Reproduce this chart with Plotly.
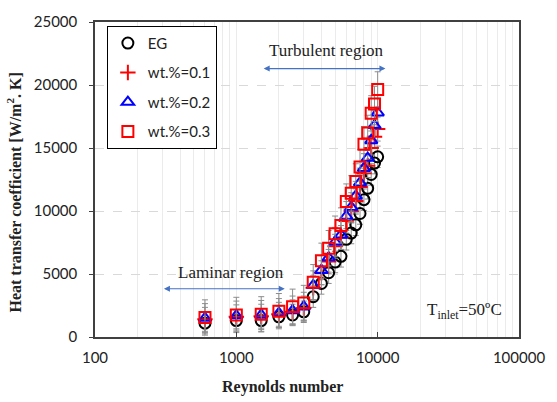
import plotly.graph_objects as go
import numpy as np

reynolds = [600, 1000, 1500, 2000, 2500, 3000, 3500, 4000, 4500, 5000,
            5500, 6000, 6500, 7000, 7500, 8000, 8500, 9000, 9500, 10000]
h_eg = [1100, 1300, 1300, 1600, 1750, 2000, 3200, 4250, 5100, 5950,
        6400, 7750, 8250, 8900, 9800, 10900, 11800, 12900, 13800, 14300]
h_w01 = [1400, 1600, 1650, 1800, 2000, 2300, 3900, 5100, 6000, 7200,
         7900, 9200, 10000, 10800, 11900, 13000, 13600, 15000, 15900, 16500]
h_w02 = [1500, 1700, 1750, 1900, 2100, 2400, 4100, 5300, 6300, 7550,
         8100, 9600, 10300, 11200, 12250, 13400, 14200, 15600, 16800, 17800]
h_w03 = [1550, 1750, 1800, 2050, 2400, 2700, 4350, 6050, 7050, 8200,
         8850, 10750, 11400, 12350, 13500, 15300, 16200, 17750, 18500, 19650]
err_eg = 850
err_w01 = 950
err_w02 = 1150
err_w03 = 1400

series_names = ["EG", "wt.%=0.1", "wt.%=0.2", "wt.%=0.3"]
x_ticks = [100, 1000, 10000, 100000]
y_ticks = [0, 5000, 10000, 15000, 20000, 25000]

fig = go.Figure()

styles = [
    (h_eg, err_eg, "circle-open", "black", 11),
    (h_w01, err_w01, "cross-thin-open", "#ff0000", 11),
    (h_w02, err_w02, "triangle-up-open", "#0000ff", 11),
    (h_w03, err_w03, "square-open", "#ff0000", 11),
]
for name, (vals, err, sym, col, sz) in zip(series_names, styles):
    fig.add_trace(go.Scatter(
        x=reynolds, y=vals, mode="markers", name=name, legendgroup=name,
        marker=dict(symbol=sym, size=sz, color=col, line=dict(width=2, color=col)),
        error_y=dict(type="constant", value=err, color="#8c8c8c", thickness=1, width=3),
    ))

serif = "Liberation Serif, Times New Roman, serif"
sans = "Lato, Open Sans, sans-serif"

fig.update_layout(
    width=557, height=402,
    margin=dict(l=95, r=33, t=17, b=65),
    paper_bgcolor="white", plot_bgcolor="white",
    font=dict(family=sans, size=14, color="#222"),
    showlegend=True,
    legend=dict(x=0.028, y=0.988, xanchor="left", yanchor="top",
                bgcolor="white", bordercolor="black", borderwidth=1,
                font=dict(family=sans, size=15, color="#222"),
                traceorder="grouped", tracegroupgap=7,
                itemwidth=30),
    xaxis=dict(type="log", range=[2, 5], tickvals=x_ticks,
               ticktext=[str(v) for v in x_ticks],
               showgrid=True, gridcolor="#ebebeb", gridwidth=1,
               minor=dict(dtick="D1", showgrid=True, gridcolor="#ebebeb", ticks=""),
               showline=True, linecolor="#404040", linewidth=1.5, mirror=True,
               ticks="inside", ticklen=5, tickcolor="#404040",
               ticklabelstandoff=6,
               tickfont=dict(family=sans, size=15, color="#222"),
               zeroline=False),
    yaxis=dict(range=[0, 25000], tickvals=y_ticks,
               ticktext=[str(v) for v in y_ticks],
               showgrid=True, gridcolor="#d9d9d9", griddash="dash", gridwidth=1,
               showline=True, linecolor="#404040", linewidth=1.5, mirror=True,
               ticks="outside", ticklen=4, tickcolor="#404040",
               ticklabelstandoff=9,
               tickfont=dict(family=sans, size=15, color="#222"),
               zeroline=False),
)

arrow_col = "#4472c4"
for (x0, x1, yv) in [(1524, 11350, 21300), (300, 2200, 3830)]:
    fig.add_annotation(x=np.log10(x1), y=yv, ax=np.log10(x0), ay=yv,
                       xref="x", yref="y", axref="x", ayref="y",
                       showarrow=True, arrowhead=2, startarrowhead=2,
                       arrowside="end+start", arrowsize=1, startarrowsize=1,
                       arrowwidth=1.2, arrowcolor=arrow_col, text="")

fig.add_annotation(x=np.log10(4360), y=22750, xref="x", yref="y", text="Turbulent region",
                   showarrow=False, font=dict(family=serif, size=17, color="#222"))
fig.add_annotation(x=np.log10(912), y=5100, xref="x", yref="y", text="Laminar region",
                   showarrow=False, font=dict(family=serif, size=17, color="#222"))
fig.add_annotation(x=np.log10(41000), y=2100, xref="x", yref="y",
                   text="T<sub>inlet</sub>=50ºC",
                   showarrow=False, font=dict(family=serif, size=17, color="#222"))

fig.add_annotation(x=0.442, y=-0.16, xref="paper", yref="paper",
                   text="<b>Reynolds number</b>", showarrow=False,
                   font=dict(family=serif, size=16, color="#222"), yanchor="middle")
fig.add_annotation(x=-0.19, y=0.46, xref="paper", yref="paper",
                   text="<b>Heat transfer coefficient [W/m<sup>2</sup>. K]</b>", showarrow=False,
                   textangle=-90,
                   font=dict(family=serif, size=16, color="#222"), xanchor="center", yanchor="middle")

fig.write_html("out.html", post_script="document.body.style.margin='0';",
               config={"displayModeBar": False})
